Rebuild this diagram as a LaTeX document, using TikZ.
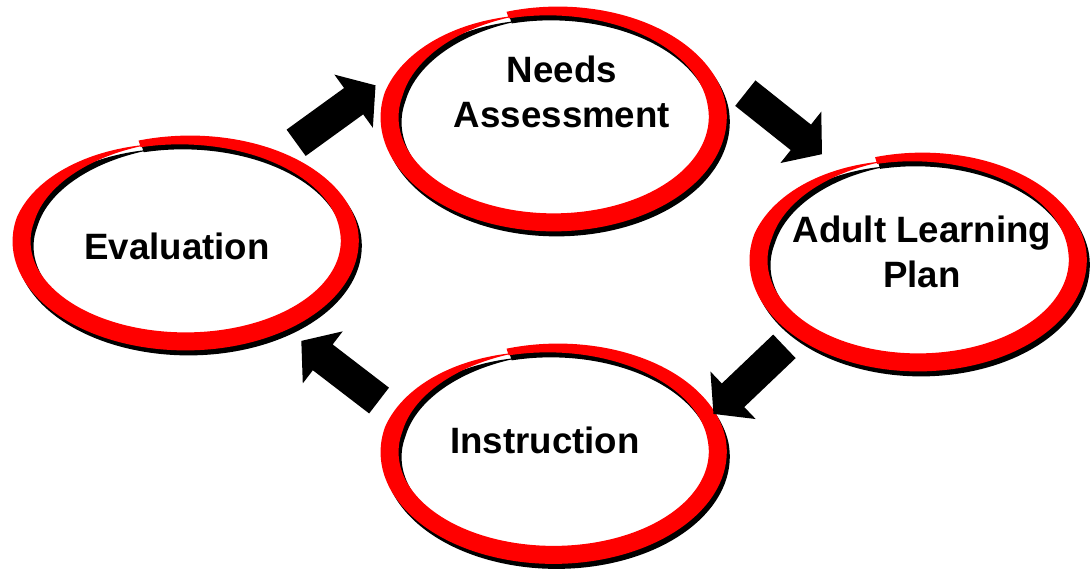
\documentclass[tikz,border=0pt]{standalone}
\usepackage{fontspec}
\setmainfont{Liberation Sans}
\usetikzlibrary{shapes.arrows}
\definecolor{brushred}{RGB}{255,0,0}
\tikzset{
  ringred/.style={fill=brushred},
  ringshadow/.style={fill=black},
  lbltext/.style={font=\bfseries\fontsize{27.5}{33.5}\selectfont, align=center, inner sep=0pt},
  arrowblk/.style={single arrow, fill=black, draw=none, inner xsep=0pt, inner ysep=12pt,
    minimum width=0pt, minimum height=73.5pt, single arrow head extend=12.4pt,
    single arrow tip angle=101, single arrow head indent=0pt}
}
% brush-stroke ring: #1 style, #2 cx, #3 cy, #4 a, #5 b, #6 start angle
\newcommand\brushring[6]{%
  \fill[#1] plot[domain=0:1,samples=241,variable=\s]
    ({#2+(#4*(1-0.015*\s*\s)+0.5*min(7+40*\s,18,1+100*(1-\s)))*cos(#6+360*\s)},
     {#3+(#5*(1-0.02*\s*\s)+0.5*min(7+40*\s,18,1+100*(1-\s)))*sin(#6+360*\s)})
    -- plot[domain=1:0,samples=241,variable=\s]
    ({#2+(#4*(1-0.015*\s*\s)-0.5*min(7+40*\s,18,1+100*(1-\s)))*cos(#6+360*\s)},
     {#3+(#5*(1-0.02*\s*\s)-0.5*min(7+40*\s,18,1+100*(1-\s)))*sin(#6+360*\s)})
    -- cycle;}
\newcommand\shadedring[5]{%
  \begin{scope}[shift={(3,5)}]\brushring{ringshadow}{#1}{#2}{#3}{#4}{#5}\end{scope}
  \brushring{ringred}{#1}{#2}{#3}{#4}{#5}}
\begin{document}
\begin{tikzpicture}[x=0.75pt,y=-0.75pt]
\useasboundingbox (0,0) rectangle (1091,571);
\fill[white] (0,0) rectangle (1091,571);

% rings
\shadedring{553}{117}{165}{106}{-106}
\shadedring{917.5}{260}{160.5}{103}{-105}
\shadedring{185}{241}{165}{101}{-106}
\shadedring{553}{451.75}{165}{103.75}{-106}

% labels
\node[lbltext] (needs) at (562,92) {Needs\\Assessment};
\node[lbltext] (plan) at (922,252) {Adult Learning\\Plan};
\node[lbltext] (eval) at (177,246) {Evaluation};
\node[lbltext] (instr) at (545,440) {Instruction};

% block arrows
\node[arrowblk, rotate=35.9] (a1) at (330.4,118) {};
\node[arrowblk, rotate=-38.5] (a2) at (778.4,119.5) {};
\node[arrowblk, rotate=-136.4] (a3) at (753.8,375.5) {};
\node[arrowblk, rotate=142.5] (a4) at (345.5,374.8) {};
\end{tikzpicture}
\end{document}
